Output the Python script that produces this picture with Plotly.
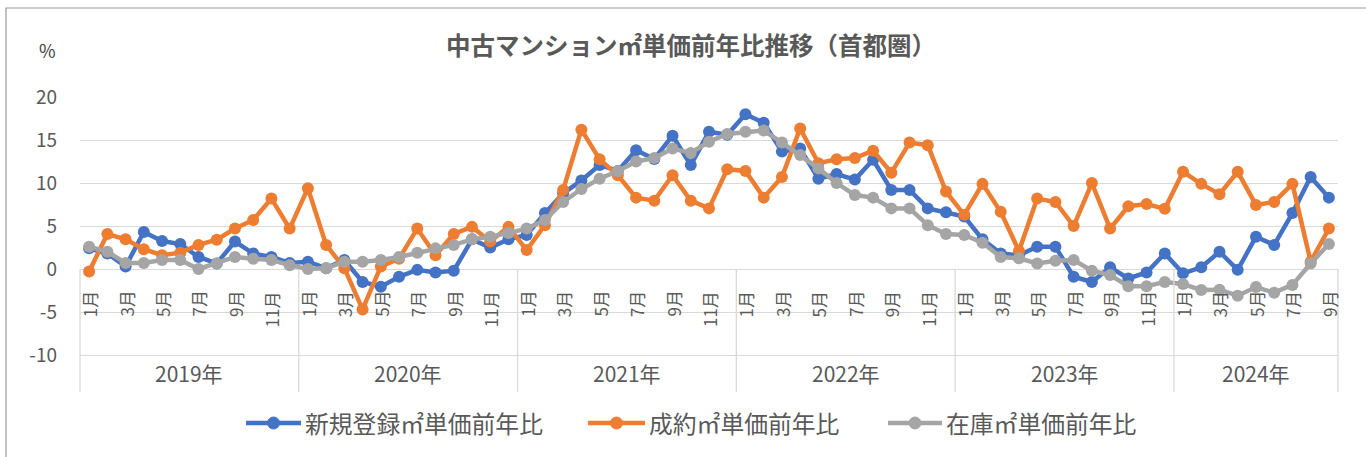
import plotly.graph_objects as go

# ---------------- data ----------------
years = ["2019年", "2020年", "2021年", "2022年", "2023年", "2024年"]
months_per_year = [12, 12, 12, 12, 12, 9]
month_labels = [f"{m}月" for n in months_per_year for m in range(1, n + 1)]

shinki = [2.4, 1.8, 0.3, 4.3, 3.25, 2.9, 1.4, 0.65, 3.2, 1.8, 1.4, 0.7,
          0.85, 0.1, 1.05, -1.5, -2.05, -0.9, -0.1, -0.4, -0.2, 3.45, 2.5, 3.45,
          3.95, 6.5, 8.8, 10.3, 12.1, 11.4, 13.8, 12.8, 15.5, 12.1, 15.95, 15.6,
          18.0, 17.0, 13.65, 14.0, 10.5, 11.05, 10.4, 12.7, 9.2, 9.2, 7.05, 6.6,
          6.1, 3.45, 1.8, 1.6, 2.6, 2.6, -0.9, -1.5, 0.2, -1.1, -0.4, 1.8,
          -0.5, 0.2, 2.0, -0.1, 3.75, 2.8, 6.5, 10.7, 8.3]

seiyaku = [-0.3, 4.07, 3.45, 2.3, 1.6, 1.9, 2.8, 3.4, 4.7, 5.7, 8.2, 4.7,
           9.4, 2.8, 0.1, -4.7, 0.3, 1.2, 4.7, 1.6, 4.07, 4.9, 3.2, 4.9,
           2.2, 5.1, 9.2, 16.2, 12.75, 10.9, 8.3, 7.95, 10.9, 7.95, 7.05, 11.6,
           11.4, 8.3, 10.7, 16.35, 12.3, 12.75, 12.9, 13.75, 11.2, 14.7, 14.4, 9.0,
           6.3, 9.9, 6.65, 2.1, 8.2, 7.8, 5.0, 10.0, 4.7, 7.3, 7.55, 7.0,
           11.3, 9.9, 8.7, 11.3, 7.45, 7.8, 9.9, 0.85, 4.7]

zaiko = [2.6, 2.0, 0.7, 0.7, 1.05, 1.05, 0.0, 0.65, 1.4, 1.2, 1.05, 0.45,
         0.0, 0.1, 0.85, 0.85, 1.05, 1.4, 1.9, 2.4, 2.8, 3.45, 3.75, 4.2,
         4.7, 5.7, 7.8, 9.3, 10.5, 11.4, 12.5, 12.9, 14.0, 13.5, 14.8, 15.7,
         15.95, 16.1, 14.7, 13.25, 11.7, 10.0, 8.6, 8.3, 7.05, 7.05, 5.1, 4.07,
         3.95, 3.06, 1.4, 1.24, 0.65, 0.97, 1.05, -0.2, -0.7, -2.0, -2.0, -1.5,
         -1.75, -2.45, -2.4, -3.1, -2.1, -2.75, -1.85, 0.65, 2.9]

series_names = ["新規登録㎡単価前年比", "成約㎡単価前年比", "在庫㎡単価前年比"]
series_values = [shinki, seiyaku, zaiko]
colors = ["#4472C4", "#ED7D31", "#A5A5A5"]

y_ticks = [-10, -5, 0, 5, 10, 15, 20]
y_tick_text = ["-10", "-5", "0", "5", "10", "15", "20"]
title_text = "中古マンション㎡単価前年比推移（首都圏）"

# ---------------- layout constants ----------------
W, H = 1366, 457
L, R, T, B = 80, 28, 97, 65
Y_MIN, Y_MAX = -14.3, 20
FONT = "Noto Sans CJK JP"
TXT = "#595959"
GRID = "#d9d9d9"

def px_x(p):
    return (p - L) / (W - L - R)

def px_y(p):
    return (H - B - p) / (H - T - B)

n = len(month_labels)
x = list(range(n))

fig = go.Figure()
for name, vals, c in zip(series_names, series_values, colors):
    fig.add_trace(go.Scatter(
        x=x, y=vals, name=name, mode="lines+markers",
        line=dict(color=c, width=4.5),
        marker=dict(color=c, size=12),
        showlegend=False, cliponaxis=False,
    ))

annotations = []
shapes = []

# month labels (odd months only), rotated
for i, lab in enumerate(month_labels):
    m = int(lab[:-1])
    if m % 2 == 1:
        annotations.append(dict(
            x=i, y=0, xref="x", yref="y", text=lab, showarrow=False,
            textangle=-90, xanchor="center", yanchor="top", yshift=-20,
            font=dict(family=FONT, size=17, color=TXT),
        ))

# year labels and separators
start = 0
bounds = [-0.5]
for yr, cnt in zip(years, months_per_year):
    annotations.append(dict(
        x=start + (cnt - 1) / 2, y=-12.1, xref="x", yref="y", text=yr,
        showarrow=False, xanchor="center", yanchor="middle",
        font=dict(family=FONT, size=21, color=TXT),
    ))
    start += cnt
    bounds.append(start - 0.5)

for b in bounds:
    xp = (b + 0.5) / n
    shapes.append(dict(type="line", xref="paper", yref="y", x0=xp, x1=xp,
                       y0=0, y1=Y_MIN, line=dict(color=GRID, width=1.3)))

# outer chart border
shapes.append(dict(type="rect", xref="paper", yref="paper",
                   x0=px_x(6), x1=px_x(W + 6), y0=px_y(H + 6), y1=px_y(8),
                   line=dict(color="#9a9a9a", width=1.2), fillcolor="rgba(0,0,0,0)"))

# "%" unit label
annotations.append(dict(x=px_x(47), y=px_y(50), xref="paper", yref="paper",
                        text="%", showarrow=False, xanchor="center", yanchor="middle",
                        font=dict(family=FONT, size=18, color="#404040")))

# manual legend
legend_pos = [(246, 301), (588, 645), (888, 942)]
ly = px_y(423)
for (x0, x1), name, c in zip(legend_pos, series_names, colors):
    shapes.append(dict(type="line", xref="paper", yref="paper",
                       x0=px_x(x0), x1=px_x(x1), y0=ly, y1=ly,
                       line=dict(color=c, width=4.5)))
    shapes.append(dict(type="circle", xref="paper", yref="paper",
                       xsizemode="pixel", ysizemode="pixel",
                       xanchor=px_x((x0 + x1) / 2), yanchor=ly,
                       x0=-6, x1=6, y0=-6, y1=6,
                       fillcolor=c, line=dict(color=c, width=1)))
    annotations.append(dict(x=px_x(x1 + 2), y=ly, xref="paper", yref="paper",
                            text=name, showarrow=False, xanchor="left", yanchor="middle",
                            font=dict(family=FONT, size=23.8, color=TXT)))

fig.update_layout(
    width=W, height=H,
    margin=dict(l=L, r=R, t=T, b=B, pad=0),
    paper_bgcolor="white", plot_bgcolor="white",
    font=dict(family=FONT, color=TXT),
    title=dict(text="<b>" + title_text + "</b>", xref="container", yref="container",
               x=691 / W, y=1 - 46 / H, xanchor="center", yanchor="middle",
               font=dict(family=FONT, size=24.5, color=TXT)),
    xaxis=dict(range=[-0.5, n - 0.5], showticklabels=False, showgrid=False,
               zeroline=False, showline=False, ticks=""),
    yaxis=dict(range=[Y_MIN, Y_MAX], tickvals=y_ticks, ticktext=y_tick_text,
               showgrid=True, gridcolor=GRID,
               gridwidth=1.3, zeroline=False, showline=False, ticks="",
               ticklabelstandoff=22, tickfont=dict(family=FONT, size=19, color=TXT)),
    annotations=annotations, shapes=shapes,
    showlegend=False,
)

fig.write_html("out.html", config={"displayModeBar": False},
               post_script="document.body.style.margin='0px';")
